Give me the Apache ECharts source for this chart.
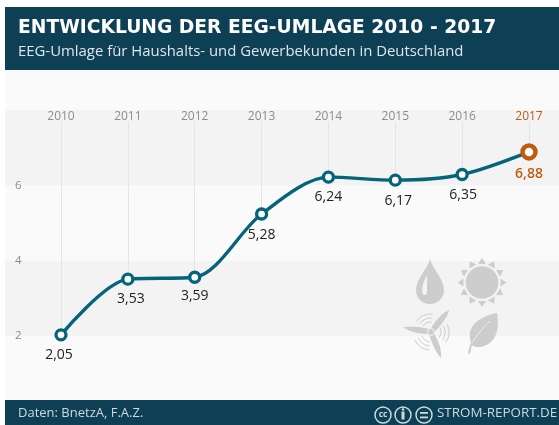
<!DOCTYPE html>
<html><head><meta charset="utf-8">
<script src="https://cdn.jsdelivr.net/npm/echarts@6/dist/echarts.min.js"></script>
<style>html,body{margin:0;padding:0;background:#fff}#c{width:559px;height:425px}</style>
</head><body><div id="c"></div>
<script>
const years = ['2010','2011','2012','2013','2014','2015','2016','2017'];
const values = [2.05,3.53,3.59,5.28,6.24,6.17,6.35,6.88];
const plotted = [2.03,3.51,3.56,5.24,6.22,6.14,6.29,6.89];
const yTicks = [2,4,6];
const title = 'ENTWICKLUNG DER EEG-UMLAGE 2010 - 2017';
const subtitle = 'EEG-Umlage für Haushalts- und Gewerbekunden in Deutschland';
const source = 'Daten: BnetzA, F.A.Z.';
const brand = 'STROM-REPORT.DE';
const FONT = '"Open Sans","Noto Sans",sans-serif';
const TEAL='#04647a', NAVY='#0d3f55', ORANGE='#bf5b0f', ICON='#cdcdcd';
const labelOffsets=[[-2,6],[3,6],[0,5],[0,7],[0,6],[3,7],[1,7],[0,6]];

const iconSvg = (()=>{
  let rays='';
  for(let i=0;i<12;i++) rays+=`<polygon points="-4,-18.5 4,-18.5 0,-24.5" transform="translate(82 27.5) rotate(${i*30})"/>`;
  let blades='';
  [[38,29],[278,28],[157,28]].forEach(([a,l])=>{const k=l/37;blades+=`<path d="M-2.5 -3 C-4 -16 -3 -28 1 -37 C4 -26 4 -14 3 -3 Z" transform="translate(31 77) rotate(${a}) scale(${k+0.15} ${k})"/>`;});
  let arcs='';
  [5,125,245].forEach(a=>{[10,14,18].forEach(r=>{
    const s=(a-30)*Math.PI/180,e=(a+30)*Math.PI/180;
    arcs+=`<path d="M${31+r*Math.cos(s)} ${77+r*Math.sin(s)} A${r} ${r} 0 0 1 ${31+r*Math.cos(e)} ${77+r*Math.sin(e)}" fill="none" stroke="${ICON}" stroke-width="1"/>`;
  });});
  const svg=`<svg xmlns="http://www.w3.org/2000/svg" width="110" height="105" viewBox="0 0 110 105"><g fill="${ICON}">`+
    `<path d="M30 3 C31 13 44 23 44 35 C44 43 38 49 30 49 C22 49 16 43 16 35 C16 23 29 13 30 3 Z"/>`+
    `<path d="M27 20 C24 26 22 31 22 35 C22 38 23 40 25 40 C27 40 27 37 27 34 Z" fill="#f3f3f3"/>`+
    `<circle cx="82" cy="27.5" r="16.3"/>`+rays+arcs+blades+
    `<circle cx="31" cy="77" r="3.5" stroke="#f3f3f3" stroke-width="1"/>`+
    `<path d="M97 58 C100 74 96 90 80 92 C76 92 74 92 72 90 L70 99 L68 98 C69 93 70 90 71 87 C66 74 76 62 97 58 Z"/>`+
    `<path d="M72 88 C78 78 84 72 90 66" fill="none" stroke="#fafafa" stroke-width="0.7"/>`+
    `</g></svg>`;
  return 'data:image/svg+xml;charset=utf-8,'+encodeURIComponent(svg);
})();

const chart = echarts.init(document.getElementById('c'),null,{renderer:'canvas'});
chart.setOption({
  animation:false,
  backgroundColor:'#ffffff',
  textStyle:{fontFamily:FONT},
  grid:[
    {left:5,right:0,top:34.8,bottom:13.7},
    {left:61,width:468,top:34.8,bottom:13.7}
  ],
  xAxis:[
    {gridIndex:0,type:'value',show:false,min:0,max:1},
    {gridIndex:1,type:'category',position:'top',boundaryGap:false,offset:-88,
     data:years.map(y=>y==='2017'?{value:y,textStyle:{color:ORANGE}}:y),
     axisLine:{show:false},axisTick:{show:false},splitLine:{show:false},
     axisLabel:{color:'#8c8c8c',fontSize:12,fontFamily:FONT,interval:0,margin:0,
       showMinLabel:true,showMaxLabel:true,hideOverlap:false}}
  ],
  yAxis:[
    {gridIndex:0,type:'value',min:0,max:10,interval:2,
     axisLine:{show:false},axisTick:{show:false},splitLine:{show:false},
     splitArea:{show:true,areaStyle:{color:['#fafafa','#f3f3f3']}},
     axisLabel:{inside:true,margin:10,color:'#8c8c8c',fontSize:11.5,fontFamily:FONT,
       formatter:v=>yTicks.includes(v)?String(v):''}},
    {gridIndex:1,type:'value',min:0,max:10,interval:2,show:false,splitLine:{show:false},splitArea:{show:false}}
  ],
  series:[{
    type:'line',xAxisIndex:1,yAxisIndex:1,smooth:0.3,
    data:plotted.map((v,i)=>{
      const last=i===plotted.length-1;
      return {value:v,symbolSize:last?13:10,
        itemStyle:{color:'#fff',borderColor:last?ORANGE:TEAL,borderWidth:last?4.5:3.3},
        label:{show:true,position:'bottom',distance:0,offset:labelOffsets[i],
          formatter:values[i].toFixed(2).replace('.',','),
          color:last?ORANGE:'#222',fontSize:14,fontFamily:FONT,
          fontWeight:last?600:400}};
    }),
    symbol:'circle',showAllSymbol:true,
    lineStyle:{color:TEAL,width:3.4},
    z:5,
    markLine:{silent:true,symbol:'none',z:1,label:{show:false},
      lineStyle:{color:'#e4e4e4',width:1,type:'solid'},
      data:years.map((y,i)=>[{xAxis:y,yAxis:7.68},{xAxis:y,yAxis:plotted[i]}])}
  }],
  graphic:[
    {type:'rect',z:100,shape:{x:5,y:7,width:554,height:63},style:{fill:NAVY}},
    {type:'text',z:101,x:18,y:19,style:{text:title,fill:'#fff',font:'700 18.7px "DejaVu Sans"'}},
    {type:'text',z:101,x:18,y:44,style:{text:subtitle,fill:'#dfe6ea',font:'400 14.9px '+FONT}},
    {type:'rect',z:100,shape:{x:5,y:400,width:554,height:25},style:{fill:NAVY}},
    {type:'text',z:101,x:18,y:406.5,style:{text:source,fill:'#cfd8dd',font:'400 13px '+FONT}},
    {type:'text',z:101,x:437,y:406.5,style:{text:brand,fill:'#cfd8dd',font:'400 13.4px '+FONT}},
    {type:'group',z:101,children:[
      ...[383,403,424].map(x=>({type:'circle',z:101,shape:{cx:x,cy:415,r:8},style:{fill:'none',stroke:'#cfd8dd',lineWidth:1.5}})),
      {type:'text',z:101,x:383,y:415,style:{text:'cc',fill:'#cfd8dd',font:'700 8.5px '+FONT,align:'center',verticalAlign:'middle'}},
      {type:'rect',z:101,shape:{x:401.5,y:411.5,width:3,height:8},style:{fill:'#cfd8dd'}},
      {type:'circle',z:101,shape:{cx:403,cy:409.5,r:1.3},style:{fill:'#cfd8dd'}},
      {type:'rect',z:101,shape:{x:420,y:412,width:8,height:1.8},style:{fill:'#cfd8dd'}},
      {type:'rect',z:101,shape:{x:420,y:416.5,width:8,height:1.8},style:{fill:'#cfd8dd'}}
    ]},
    {type:'image',z:4,x:400,y:255,style:{image:iconSvg,width:110,height:105}}
  ]
});
</script></body></html>
